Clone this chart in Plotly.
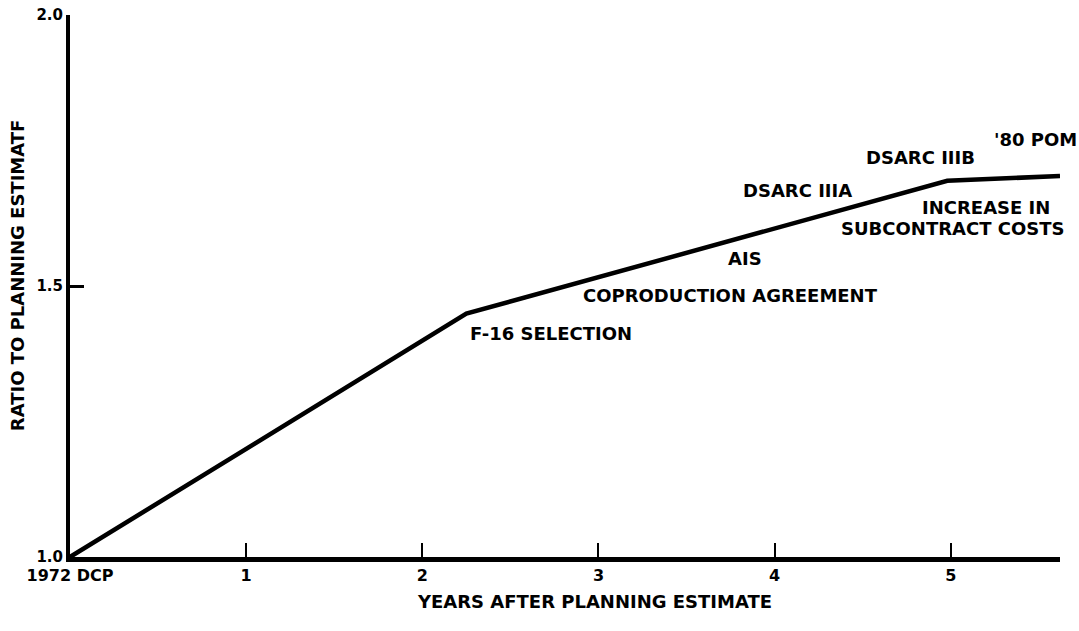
import plotly.graph_objects as go

# Data
years = [0, 2.25, 4.98, 5.62]
ratio = [1.0, 1.449, 1.694, 1.703]

x_tick_vals = [0, 1, 2, 3, 4, 5]
x_tick_text = ["1972 DCP", "1", "2", "3", "4", "5"]
y_tick_vals = [1.0, 1.5, 2.0]
y_tick_text = ["1.0", "1.5", "2.0"]

event_labels = ["F-16 SELECTION", "COPRODUCTION AGREEMENT", "AIS", "DSARC IIIA",
                "DSARC IIIB", "'80 POM", "INCREASE IN", "SUBCONTRACT COSTS"]
event_x = [2.26, 3.75, 3.83, 4.13, 4.83, 5.48, 5.20, 5.01]
event_y = [1.413, 1.482, 1.550, 1.677, 1.738, 1.771, 1.644, 1.607]
event_anchor = ["left", "center", "center", "center", "center", "center", "center", "center"]

x_title = "YEARS AFTER PLANNING ESTIMATE"
y_title = "RATIO TO PLANNING ESTIMATF"

FONT = "DejaVu Sans"

fig = go.Figure()
fig.add_trace(go.Scatter(x=years, y=ratio, mode="lines",
                         line=dict(color="black", width=4.5), showlegend=False,
                         hoverinfo="skip"))

for t, x, y, a in zip(event_labels, event_x, event_y, event_anchor):
    fig.add_annotation(x=x, y=y, text="<b>" + t + "</b>", showarrow=False,
                       xanchor=a, yanchor="middle", align="center",
                       font=dict(family=FONT, size=18, color="black"))

fig.add_annotation(xref="paper", yref="paper", x=0.530, y=-0.082,
                   text="<b>" + x_title + "</b>", showarrow=False,
                   xanchor="center", yanchor="middle",
                   font=dict(family=FONT, size=18, color="black"))
fig.add_annotation(xref="paper", yref="paper", x=-0.0535, y=0.52,
                   text="<b>" + y_title + "</b>", showarrow=False, textangle=-90,
                   xanchor="center", yanchor="middle",
                   font=dict(family=FONT, size=18, color="black"))

fig.update_layout(
    width=1079, height=631,
    margin=dict(l=70, r=19, t=15, b=74),
    paper_bgcolor="white", plot_bgcolor="white",
    font=dict(family=FONT, color="black"),
    xaxis=dict(range=[0, 5.62], tickvals=x_tick_vals, automargin=False,
               ticktext=["<b>" + t + "</b>" for t in x_tick_text],
               ticks="inside", ticklen=14, tickwidth=2, tickcolor="black",
               showline=True, linewidth=5, linecolor="black",
               showgrid=False, zeroline=False,
               tickfont=dict(family=FONT, size=16, color="black")),
    yaxis=dict(range=[1.0, 2.0], tickvals=y_tick_vals, automargin=False,
               ticktext=["<b>" + t + "</b>" for t in y_tick_text],
               ticks="inside", ticklen=14, tickwidth=3, tickcolor="black",
               showline=True, linewidth=4, linecolor="black",
               showgrid=False, zeroline=False,
               tickfont=dict(family=FONT, size=15, color="black")),
)

fig.write_html("out.html", config={"displayModeBar": False},
               post_script="document.body.style.margin='0px';")
